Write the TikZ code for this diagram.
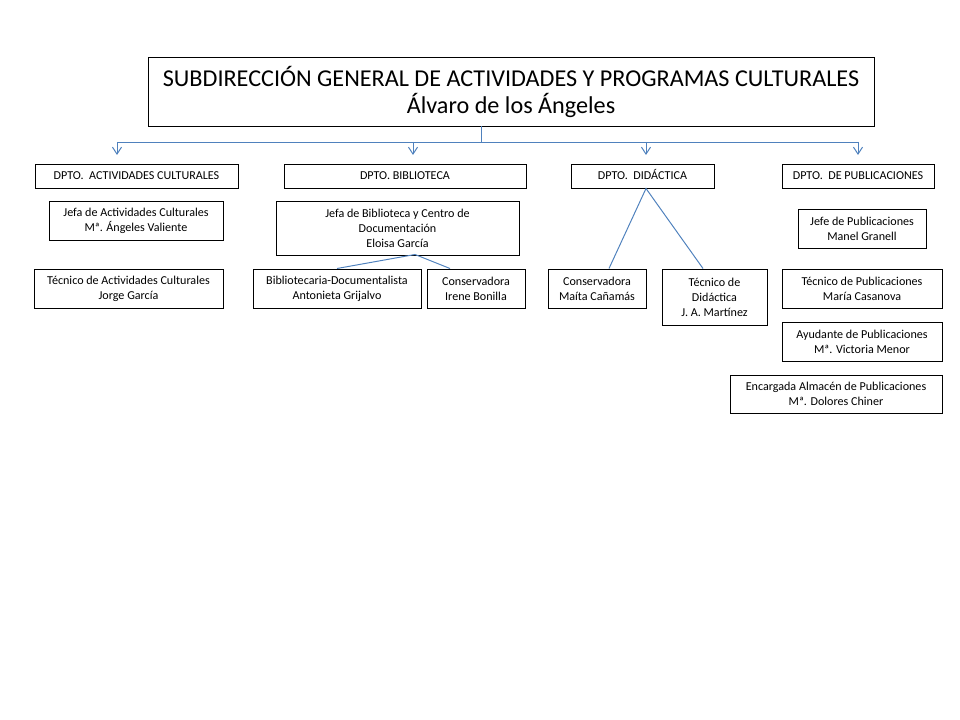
\documentclass[tikz,border=0pt]{standalone}
\usepackage{fontspec}
\setmainfont{Carlito}
\usepackage{tikz}
\usetikzlibrary{arrows.meta, positioning}
\definecolor{linkblue}{RGB}{79,129,189}
\newdimen\px \px=0.025cm

\begin{document}
\begin{tikzpicture}[
  x=0.025cm, y=-0.025cm,
  box/.style={rectangle, draw=black, line width=0.7pt, fill=white,
              align=center, inner sep=0pt, font=\fontsize{8.6}{10.7}\selectfont},
  dept/.style={box, minimum height=24\px, text height=6.2pt, text depth=1.6pt},
  head/.style={box, font=\fontsize{17.2}{19.2}\selectfont},
  link/.style={draw=linkblue, line width=0.7pt},
  tip/.style={link, -{Straight Barb[length=5pt, width=6.5pt]}}
]
\useasboundingbox (0,0) rectangle (960,720);

\node[head, minimum width=726\px, minimum height=69\px] (sub) at (511,91.5)
  {SUBDIRECCIÓN GENERAL DE ACTIVIDADES Y PROGRAMAS CULTURALES\\Álvaro de los Ángeles};

% departamentos
\node[dept, minimum width=203\px] (dac) at (136.5,176) {DPTO.\ \ ACTIVIDADES CULTURALES};
\node[dept, minimum width=242\px] (dbi) at (405,176)   {DPTO. BIBLIOTECA};
\node[dept, minimum width=143\px] (ddi) at (642.5,176) {DPTO.\ \ DIDÁCTICA};
\node[dept, minimum width=152\px] (dpu) at (858,176)   {DPTO.\ \ DE PUBLICACIONES};

% jefaturas
\node[box, minimum width=174\px, minimum height=39\px] (jac) at (136,220.5) {Jefa de Actividades Culturales\\Mª. Ángeles Valiente};
\node[box, minimum width=243\px, minimum height=54\px] (jbi) at (397.5,228) {Jefa de Biblioteca y Centro de\\Documentación\\Eloisa García};
\node[box, minimum width=128\px, minimum height=39\px] (jpu) at (862,228.5) {Jefe de Publicaciones\\Manel Granell};

% personal
\node[box, minimum width=189\px, minimum height=39\px] (tac) at (128.5,288.5) {Técnico de Actividades Culturales\\Jorge García};
\node[box, minimum width=168\px, minimum height=39\px] (bdo) at (337,288.5)   {Bibliotecaria-Documentalista\\Antonieta Grijalvo};
\node[box, minimum width=98\px,  minimum height=39\px] (cib) at (476,288.5)   {Conservadora\\Irene Bonilla};
\node[box, minimum width=98\px,  minimum height=39\px] (cmc) at (597,288.5)   {Conservadora\\Maíta Cañamás};
\node[box, minimum width=105\px, minimum height=56\px] (tdi) at (714.5,297)   {Técnico de\\Didáctica\\J. A. Martínez};
\node[box, minimum width=160\px, minimum height=39\px] (tpu) at (862,288.5)   {Técnico de Publicaciones\\María Casanova};
\node[box, minimum width=160\px, minimum height=39\px] (apu) at (862,341.5)   {Ayudante\ de Publicaciones\\Mª. Victoria Menor};
\node[box, minimum width=212\px, minimum height=38\px] (eal) at (836,394)     {Encargada Almacén de Publicaciones\\Mª. Dolores Chiner};

% conectores
\coordinate (hub) at (481,142);
\coordinate (a1) at (117,155);
\coordinate (a2) at (413,155);
\coordinate (a3) at (646,155);
\coordinate (a4) at (858,155);
\draw[link] (sub.south -| hub) -- (hub);
\draw[link] (hub -| a1) -- (hub -| a4);
\foreach \t in {a1,a2,a3,a4}
  \draw[tip] (hub -| \t) -- (\t);

\coordinate (jb) at (415,254.5);
\draw[link] (bdo.north) -- (jb) -- ([xshift=-26\px]cib.north);
\draw[link] ([xshift=12\px]cmc.north) -- ([xshift=3.5\px]ddi.south) -- ([xshift=-11.5\px]tdi.north);
\end{tikzpicture}
\end{document}
